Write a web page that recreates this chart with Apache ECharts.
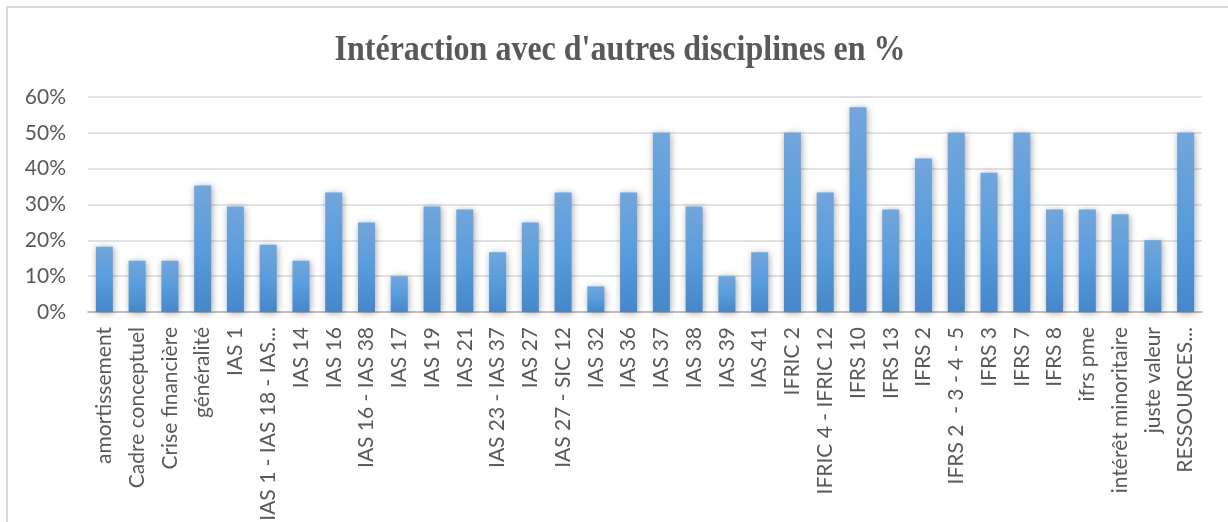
<!DOCTYPE html>
<html>
<head>
<meta charset="utf-8">
<script src="https://cdn.jsdelivr.net/npm/echarts@6/dist/echarts.min.js"></script>
<style>
html,body{margin:0;padding:0;background:#fff;}
#chart{width:1228px;height:522px;}
</style>
</head>
<body>
<div id="chart"></div>
<script>
const categories = ["amortissement","Cadre conceptuel","Crise financière","généralité","IAS 1","IAS 1 - IAS 18 - IAS...","IAS 14","IAS 16","IAS 16 - IAS 38","IAS 17","IAS 19","IAS 21","IAS 23 - IAS 37","IAS 27","IAS 27 - SIC 12","IAS 32","IAS 36","IAS 37","IAS 38","IAS 39","IAS 41","IFRIC 2","IFRIC 4 - IFRIC 12","IFRS 10","IFRS 13","IFRS 2","IFRS 2  - 3 - 4 - 5","IFRS 3","IFRS 7","IFRS 8","ifrs pme","intérêt minoritaire","juste valeur","RESSOURCES..."];
const values = [18.18,14.29,14.29,35.29,29.41,18.75,14.29,33.33,25,10,29.41,28.57,16.67,25,33.33,7.14,33.33,50,29.41,10,16.67,50,33.33,57.14,28.57,42.86,50,38.89,50,28.57,28.57,27.27,20,50];
const yTicks = [0,10,20,30,40,50,60];
const titleText = "Intéraction avec d'autres disciplines en %";

const chart = echarts.init(document.getElementById('chart'));
chart.setOption({
  animation:false,
  graphic:[
    {type:'rect',shape:{x:7,y:7,width:1240,height:530},style:{fill:'none',stroke:'#d9d9d9',lineWidth:2},silent:true},
    {type:'text',x:620,y:50,scaleY:1.15,silent:true,
     style:{text:titleText,fill:'#595959',font:'bold 32px "Liberation Serif"',textAlign:'center',textVerticalAlign:'middle'}}
  ],
  grid:{left:88,right:26,top:97,bottom:210,outerBoundsMode:'none',containLabel:false},
  xAxis:{
    type:'category',data:categories,
    axisTick:{show:false},
    axisLine:{lineStyle:{color:'#bfbfbf',width:2}},
    axisLabel:{rotate:90,interval:0,margin:15,color:'#595959',fontFamily:'Lato',fontSize:21}
  },
  yAxis:{
    type:'value',min:0,max:60,interval:10,
    axisLine:{show:false},axisTick:{show:false},
    splitLine:{lineStyle:{color:'#d9d9d9',width:1.5}},
    axisLabel:{formatter:v=>yTicks.includes(v)?v+'%':'',margin:22,color:'#595959',fontFamily:'Lato',fontSize:21}
  },
  series:[{
    type:'bar',data:values,barWidth:17,
    itemStyle:{
      color:new echarts.graphic.LinearGradient(0,0,0,1,[{offset:0,color:'#72a6db'},{offset:0.5,color:'#599cdc'},{offset:1,color:'#4587c9'}]),
      shadowColor:'rgba(0,0,0,0.35)',shadowBlur:7,shadowOffsetX:1,shadowOffsetY:1
    }
  }]
});
</script>
</body>
</html>
